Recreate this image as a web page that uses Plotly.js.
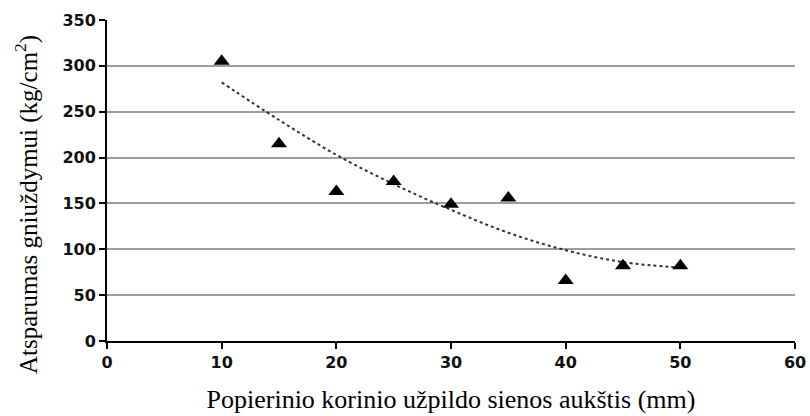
<!DOCTYPE html>
<html><head><meta charset="utf-8">
<script src="https://cdn.plot.ly/plotly-3.0.1.min.js"></script>
<style>html,body{margin:0;padding:0;background:#fff}#c{width:810px;height:416px}</style>
</head><body><div id="c"></div>
<script>
const wallHeight = [10, 15, 20, 25, 30, 35, 40, 45, 50];
const strength = [305, 215, 163, 174, 149, 156, 66, 82, 82];
const trendX = [10, 15, 20, 25, 30, 35, 40, 45, 50];
const trendY = [282, 241, 203, 171, 143, 118, 99, 86, 80];
const xTicks = [0, 10, 20, 30, 40, 50, 60];
const yTicks = [0, 50, 100, 150, 200, 250, 300, 350];
const xTitle = 'Popierinio korinio užpildo sienos aukštis (mm)';
const yTitle = 'Atsparumas gniuždymui (kg/cm<sup>2</sup>)';

const tickFont = {family: 'DejaVu Sans', size: 16, color: '#111', weight: 'bold'};

Plotly.newPlot('c', [
  {x: trendX, y: trendY, mode: 'lines', type: 'scatter',
   line: {color: '#333', width: 2, dash: 'dot', shape: 'spline'}, hoverinfo: 'skip'},
  {x: wallHeight, y: strength, mode: 'markers', type: 'scatter',
   marker: {symbol: 'triangle-up', size: 14, color: '#000'}}
], {
  width: 810, height: 416, showlegend: false,
  paper_bgcolor: '#fff', plot_bgcolor: '#fff',
  margin: {l: 107, r: 15, t: 20, b: 75},
  xaxis: {range: [0, 60], tickvals: xTicks, ticktext: xTicks.map(String),
    showline: true, linecolor: '#000', linewidth: 2, ticks: 'outside', ticklen: 6, tickwidth: 2, tickcolor: '#000',
    showgrid: false, zeroline: false, tickfont: tickFont,
    title: {text: xTitle, font: {family: 'Liberation Serif', size: 26, color: '#000'}, standoff: 19}},
  yaxis: {range: [0, 350], tickvals: yTicks, ticktext: yTicks.map(String),
    showline: true, linecolor: '#000', linewidth: 2, ticks: 'outside', ticklen: 6, tickwidth: 2, tickcolor: '#000',
    showgrid: true, gridcolor: '#9e9e9e', gridwidth: 2, zeroline: false, tickfont: tickFont},
  annotations: [{text: yTitle, textangle: -90, xref: 'paper', yref: 'paper',
    x: -0.116, y: 0.424, xanchor: 'center', yanchor: 'middle', showarrow: false,
    font: {family: 'Liberation Serif', size: 25, color: '#000'}}]
}, {displayModeBar: false, staticPlot: true});
</script></body></html>
